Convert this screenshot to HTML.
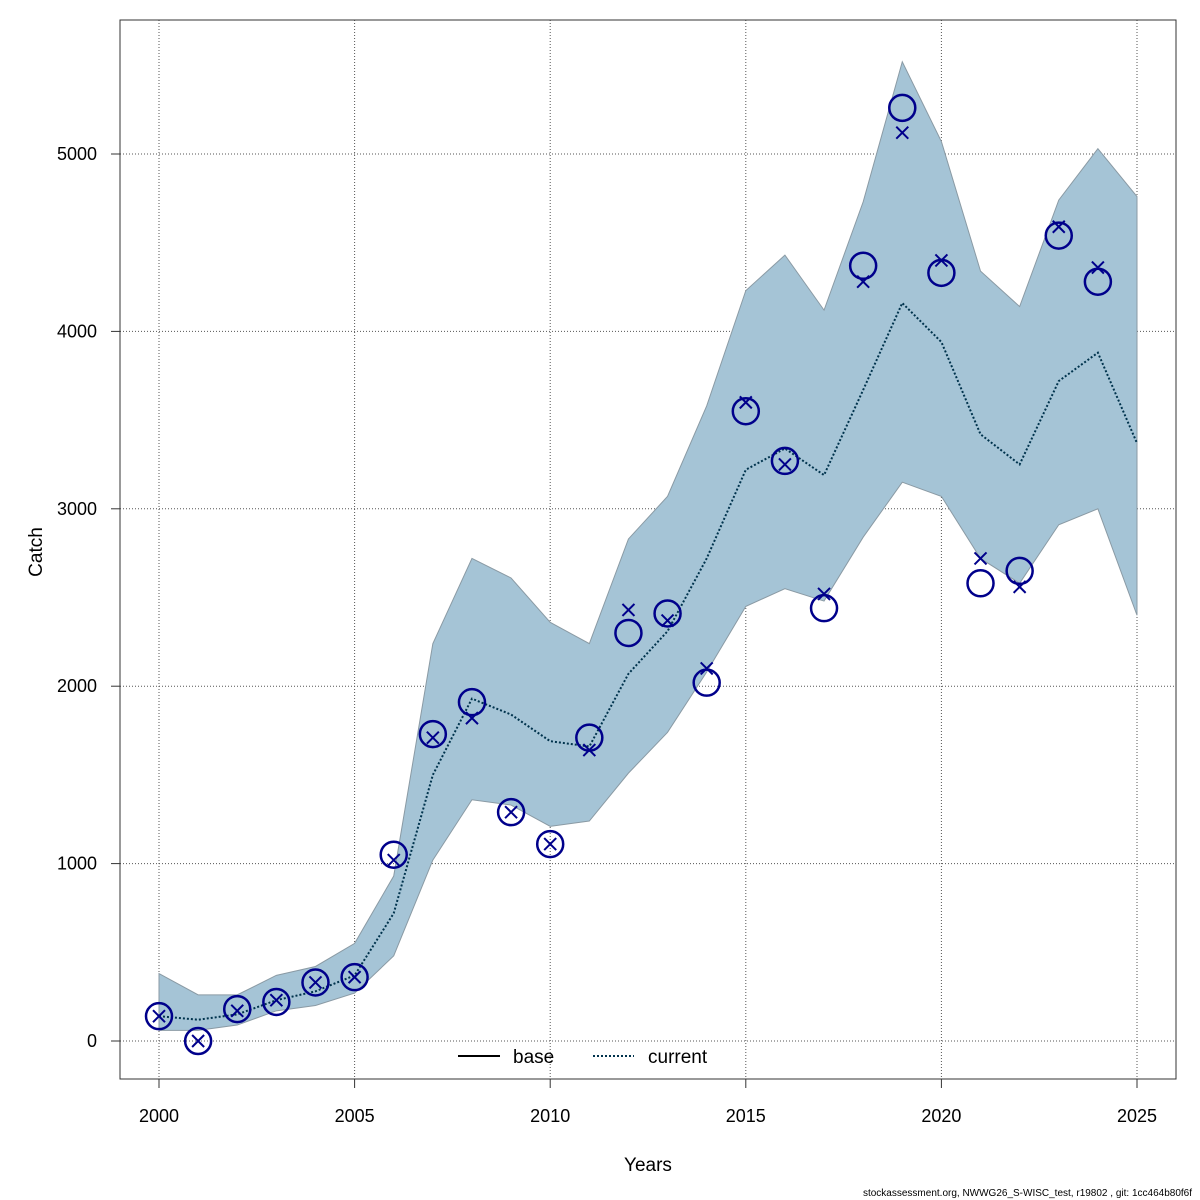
<!DOCTYPE html>
<html><head><meta charset="utf-8"><style>
body{margin:0;background:#fff;}
svg{display:block;font-family:"Liberation Sans",sans-serif;}
</style></head><body>
<svg id="chart" width="1200" height="1200" viewBox="0 0 1200 1200">
<rect x="0" y="0" width="1200" height="1200" fill="#fff"/>
<g id="grid"></g>
<g id="band"></g>
<g id="lines"></g>
<g id="marks"></g>
<rect x="120" y="20" width="1056" height="1059" fill="none" stroke="#333" stroke-width="1"/>
<g id="axes"></g>
<text x="648" y="1171" font-size="19" text-anchor="middle">Years</text>
<text x="42" y="552" font-size="19" text-anchor="middle" transform="rotate(-90 42 552)">Catch</text>
<g>
<line x1="458" y1="1056" x2="500" y2="1056" stroke="#000" stroke-width="2"/>
<text x="513" y="1063" font-size="19">base</text>
<line x1="593" y1="1056" x2="634" y2="1056" stroke="#00334d" stroke-width="2" stroke-dasharray="2,2"/>
<text x="648" y="1063" font-size="19">current</text>
</g>
<text x="1192" y="1196" font-size="10" text-anchor="end">stockassessment.org, NWWG26_S-WISC_test, r19802 , git: 1cc464b80f6f</text>
</svg>
<script>
const years=[2000,2001,2002,2003,2004,2005,2006,2007,2008,2009,2010,2011,2012,2013,2014,2015,2016,2017,2018,2019,2020,2021,2022,2023,2024,2025];
const currentMedian=[140,120,150,230,280,370,720,1500,1930,1840,1690,1660,2070,2310,2720,3220,3340,3190,3670,4160,3940,3420,3250,3720,3880,3370];
const upperBand=[380,260,260,370,420,550,930,2240,2720,2610,2360,2240,2830,3070,3580,4230,4430,4120,4730,5520,5070,4340,4140,4740,5030,4760];
const lowerBand=[60,60,90,170,200,270,480,1020,1360,1330,1210,1240,1510,1740,2080,2450,2550,2480,2840,3150,3070,2720,2580,2910,3000,2400];
const obsYears=[2000,2001,2002,2003,2004,2005,2006,2007,2008,2009,2010,2011,2012,2013,2014,2015,2016,2017,2018,2019,2020,2021,2022,2023,2024];
const observed=[140,0,180,220,330,360,1050,1730,1910,1290,1110,1710,2300,2410,2020,3550,3270,2440,4370,5260,4330,2580,2650,4540,4280];
const predicted=[140,0,170,230,330,360,1020,1710,1820,1290,1110,1640,2430,2370,2100,3600,3250,2520,4280,5120,4400,2720,2560,4590,4360];
const xTicks=[2000,2005,2010,2015,2020,2025];
const yTicks=[0,1000,2000,3000,4000,5000];
const NS="http://www.w3.org/2000/svg";
const xs=y=>159+(y-2000)*(1137-159)/25;
const ys=v=>1041-v*(1041-154)/5000;
function mk(parent,tag,attrs){const e=document.createElementNS(NS,tag);for(const k in attrs)e.setAttribute(k,attrs[k]);document.getElementById(parent).appendChild(e);return e;}
xTicks.forEach(t=>{
 const g=mk('grid','line',{x1:xs(t),x2:xs(t),y1:20,y2:1079,stroke:'#555','stroke-width':1,'stroke-dasharray':'1,2'});
 
 
 const tk=mk('axes','line',{x1:xs(t),x2:xs(t),y1:1079,y2:1088,stroke:'#333'});
 
 
 const tx=mk('axes','text',{x:xs(t),y:1122,'font-size':18,'text-anchor':'middle'});
 tx.textContent=t;
 
 
});
yTicks.forEach(t=>{
 const g=mk('grid','line',{x1:120,x2:1176,y1:ys(t),y2:ys(t),stroke:'#555','stroke-width':1,'stroke-dasharray':'1,2'});
 
 
 const tk=mk('axes','line',{x1:111,x2:120,y1:ys(t),y2:ys(t),stroke:'#333'});
 
 
 const tx=mk('axes','text',{x:97,y:ys(t)+6,'font-size':18,'text-anchor':'end'});
 tx.textContent=t;
 
 
});
let pts=years.map((y,i)=>xs(y)+','+ys(upperBand[i]));
for(let i=years.length-1;i>=0;i--)pts.push(xs(years[i])+','+ys(lowerBand[i]));
const poly=mk('band','polygon',{points:pts.join(' '),fill:'#a5c4d6',stroke:'#8a9aa4','stroke-width':1});


const ln=mk('lines','polyline',{points:years.map((y,i)=>xs(y)+','+ys(currentMedian[i])).join(' '),fill:'none',stroke:'#00334d','stroke-width':2,'stroke-dasharray':'2,2'});


obsYears.forEach((y,i)=>{
 const c=mk('marks','circle',{cx:xs(y),cy:ys(observed[i]),r:13,fill:'none',stroke:'#00008b','stroke-width':2.5});
 
 
 const x=xs(y),yy=ys(predicted[i]),d=6;
 const p=mk('marks','path',{d:`M${x-d},${yy-d}L${x+d},${yy+d}M${x-d},${yy+d}L${x+d},${yy-d}`,stroke:'#00008b','stroke-width':2,fill:'none'});
 
 
});
</script>
</body></html>
